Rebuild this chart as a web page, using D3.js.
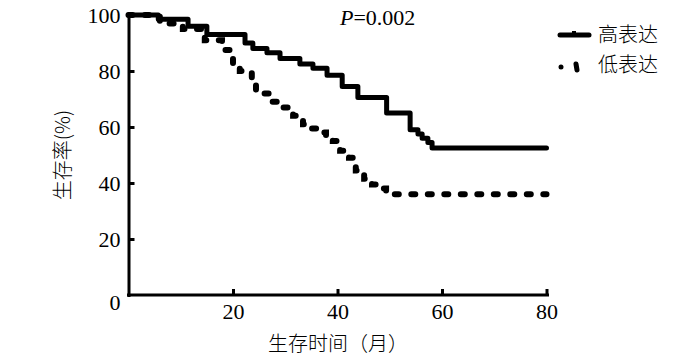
<!DOCTYPE html>
<html>
<head>
<meta charset="utf-8">
<script src="https://cdn.jsdelivr.net/npm/d3@7"></script>
<style>
  body { margin: 0; background: #fff; }
  text { fill: #000; }
  .num { font-family: "Liberation Serif", "Times New Roman", serif; font-size: 22px; }
  .cjk { font-family: "Noto Sans CJK SC", sans-serif; font-size: 20px; font-weight: 300; }
</style>
</head>
<body>
<div id="chart"></div>
<script>
// Kaplan-Meier steps (months, survival %)
const highTimes = [0, 5.7, 11.4, 15, 22.3, 23.8, 26.5, 29, 32.8, 35.3, 38, 40.9, 43.9, 49.4, 53.9, 55.4, 56.2, 57.3, 58.1, 80];
const highSurv  = [100, 98.5, 96, 93, 90, 88, 86.5, 84.5, 82.5, 81, 78.5, 74.5, 70.5, 65, 59, 57.5, 56, 54.5, 52.5, 52.5];

const lowTimes = [0, 6, 10.4, 14.6, 17.9, 20, 21.3, 23.6, 24.4, 25.7, 27.5, 29, 30.5, 31.5, 33.4, 35.1, 36.3, 37.8, 39.1, 40.5, 42.2, 43.5, 45.1, 46.6, 47.8, 49.3, 80];
const lowSurv  = [100, 97, 95, 91, 87.5, 81, 80, 76, 73, 72, 69, 67, 66, 64, 61, 59.5, 58, 56.5, 55, 51.5, 49, 44.5, 41.5, 39.5, 38, 36, 36];

const xTicks = [20, 40, 60, 80];
const yTicks = [0, 20, 40, 60, 80, 100];
const seriesNames = ["高表达", "低表达"];

const W = 700, H = 359;
const svg = d3.select("#chart").append("svg")
    .attr("width", W)
    .attr("height", H);

const x = d3.scaleLinear().domain([0, 80]).range([128.5, 546.5]);
const y = d3.scaleLinear().domain([0, 100]).range([295, 15]);

// curves
const line = d3.line()
    .curve(d3.curveStepAfter)
    .x(d => x(d[0]))
    .y(d => y(d[1]));

const highData = highTimes.map((t, i) => [t, highSurv[i]]);
const lowData = lowTimes.map((t, i) => [t, lowSurv[i]]);

svg.append("path")
    .datum(lowData)
    .attr("d", line)
    .attr("fill", "none")
    .attr("stroke", "#000")
    .attr("stroke-width", 6)
    .attr("stroke-linecap", "round")
    .attr("stroke-dasharray", "4,12.5");

svg.append("path")
    .datum(highData)
    .attr("d", line)
    .attr("fill", "none")
    .attr("stroke", "#000")
    .attr("stroke-width", 5)
    .attr("stroke-linejoin", "round")
    .attr("stroke-linecap", "round");

// axes
const gx = svg.append("g")
    .attr("transform", "translate(0,295)")
    .call(d3.axisBottom(x).tickValues(xTicks).tickSizeInner(-6).tickSizeOuter(0).tickPadding(8));
const gy = svg.append("g")
    .attr("transform", "translate(128.5,0)")
    .call(d3.axisLeft(y).tickValues(yTicks).tickSizeInner(-6).tickSizeOuter(0).tickPadding(8));

[gx, gy].forEach(g => {
  g.select(".domain").attr("stroke-width", 3).attr("stroke-linecap", "square");
  g.selectAll(".tick line").attr("stroke-width", 3);
  g.selectAll("text").attr("class", "num").attr("font-family", null).attr("font-size", null);
});
gx.select(".domain").attr("d", "M" + x(0) + ",0H" + (x(80) + 1));
gy.selectAll(".tick").filter(d => d === 0).select("text").attr("dy", "0.65em");
gy.selectAll(".tick").filter(d => d === 0).select("line").remove();

// axis titles
svg.append("text")
    .attr("class", "cjk")
    .attr("text-anchor", "middle")
    .attr("transform", "translate(70,155) rotate(-90)")
    .text("生存率(%)");

svg.append("text")
    .attr("class", "cjk")
    .attr("text-anchor", "middle")
    .attr("x", 338)
    .attr("y", 351)
    .text("生存时间（月）");

// p value
const p = svg.append("text")
    .attr("class", "num")
    .attr("x", 340)
    .attr("y", 25);
p.append("tspan").attr("font-style", "italic").text("P");
p.append("tspan").text("=0.002");

// legend
const legend = svg.append("g");
legend.append("line")
    .attr("x1", 560).attr("x2", 589).attr("y1", 35).attr("y2", 35)
    .attr("stroke", "#000").attr("stroke-width", 5).attr("stroke-linecap", "round");
legend.append("line")
    .attr("x1", 574).attr("x2", 574).attr("y1", 31).attr("y2", 35)
    .attr("stroke", "#000").attr("stroke-width", 4);
legend.append("circle")
    .attr("cx", 561).attr("cy", 67).attr("r", 2.5).attr("fill", "#000");
legend.append("line")
    .attr("x1", 576).attr("x2", 577).attr("y1", 64).attr("y2", 70)
    .attr("stroke", "#000").attr("stroke-width", 5).attr("stroke-linecap", "round");

legend.selectAll("text.lab")
    .data(seriesNames)
    .join("text")
    .attr("class", "cjk lab")
    .attr("x", 598)
    .attr("y", (d, i) => 42 + i * 30)
    .text(d => d);
</script>
</body>
</html>
